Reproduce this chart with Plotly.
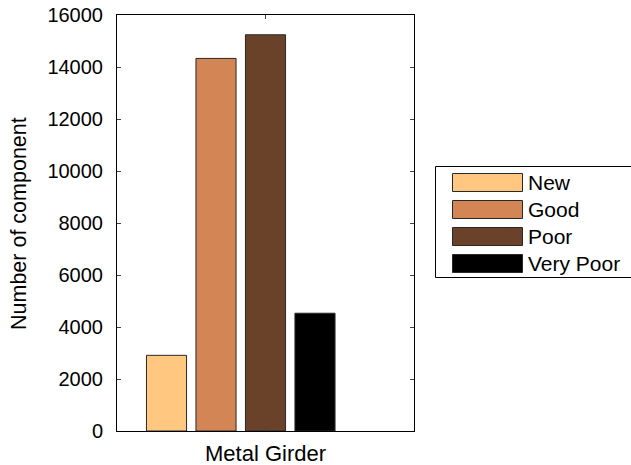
import plotly.graph_objects as go

categories = ["Metal Girder"]
series_names = ["New", "Good", "Poor", "Very Poor"]
new_vals = [2910]
good_vals = [14330]
poor_vals = [15240]
verypoor_vals = [4530]
empty_vals = [0]  # fifth (empty) slot in the group
series_colors = ["rgb(255,199,127)", "rgb(212,133,85)", "rgb(106,66,42)", "rgb(0,0,0)"]
y_ticks = [0, 2000, 4000, 6000, 8000, 10000, 12000, 14000, 16000]
y_ticktext = [str(v) for v in y_ticks]

W, H = 631, 465
L, R, T, B = 117, 414, 15, 431
FONT = "Liberation Sans, Arial, sans-serif"

fig = go.Figure()
xpos = [1]
for name, vals, col in zip(series_names, [new_vals, good_vals, poor_vals, verypoor_vals], series_colors):
    fig.add_trace(go.Bar(x=xpos, y=vals, name=name,
                         marker=dict(color=col, line=dict(color="rgb(40,40,40)", width=1)),
                         showlegend=False))
fig.add_trace(go.Bar(x=xpos, y=empty_vals, name="", marker=dict(color="rgba(0,0,0,0)", line=dict(width=0)),
                     showlegend=False, hoverinfo="skip"))

def px2x(p):
    return (p - L) / (R - L)

def px2y(p):
    return (B - p) / (B - T)

shapes = []
annotations = []
# legend box
shapes.append(dict(type="rect", xref="paper", yref="paper", x0=px2x(435.5), x1=px2x(631.5), y0=px2y(277.5), y1=px2y(166.5),
                   line=dict(color="black", width=1), fillcolor="white"))
sw_top = [173, 200, 227, 254]
for name, col, t in zip(series_names, series_colors, sw_top):
    shapes.append(dict(type="rect", xref="paper", yref="paper", x0=px2x(452.5), x1=px2x(522.5),
                       y0=px2y(t + 18.5), y1=px2y(t + 0.5),
                       line=dict(color="rgb(40,40,40)", width=1), fillcolor=col))
    annotations.append(dict(xref="paper", yref="paper", x=px2x(526), y=px2y(t + 9.5), text=name, showarrow=False,
                            xanchor="left", yanchor="middle", font=dict(family=FONT, size=21, color="black")))
annotations.append(dict(xref="paper", yref="paper", x=px2x(19), y=px2y(224), text="Number of component", textangle=-90,
                        showarrow=False, xanchor="center", yanchor="middle", font=dict(family=FONT, size=21.5, color="black")))

fig.update_layout(
    template="none",
    width=W, height=H,
    margin=dict(l=L, r=W - R, t=T, b=H - B, pad=0, autoexpand=False),
    paper_bgcolor="white", plot_bgcolor="white",
    barmode="group", bargap=0.1667, bargroupgap=0.19,
    font=dict(family=FONT, size=20, color="black"),
    shapes=shapes, annotations=annotations,
    showlegend=False,
)
fig.update_xaxes(range=[0.5, 1.5], tickvals=xpos, ticktext=categories, ticks="inside", ticklen=4,
                 showline=True, linecolor="black", linewidth=1, mirror="ticks", showgrid=False, zeroline=False,
                 automargin=False, ticklabelstandoff=3, ticklabeloverflow="allow",
                 tickfont=dict(family=FONT, size=22, color="black"))
fig.update_yaxes(range=[0, 16000], tickvals=y_ticks, ticktext=y_ticktext, ticks="inside", ticklen=4,
                 showline=True, linecolor="black", linewidth=1, mirror="ticks", showgrid=False, zeroline=False,
                 automargin=False, ticklabelstandoff=9, ticklabeloverflow="allow",
                 tickfont=dict(family=FONT, size=20, color="black"))

fig.write_html("out.html", config={"displayModeBar": False},
               post_script="document.body.style.margin='0px';document.body.style.overflow='hidden';")
